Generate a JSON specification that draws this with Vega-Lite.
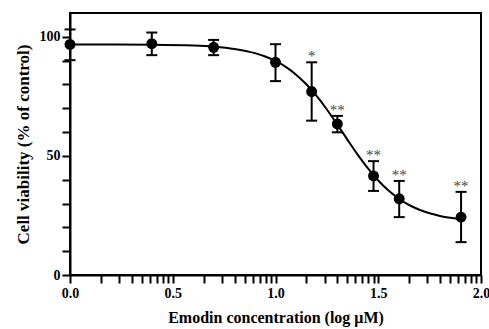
{
  "$schema": "https://vega.github.io/schema/vega-lite/v6.json",
  "width": 411,
  "height": 262,
  "autosize": {"type": "none"},
  "padding": {"left": 70, "top": 13, "right": 8, "bottom": 54},
  "background": "white",
  "view": {"stroke": "black", "strokeWidth": 2},
  "config": {
    "font": "Liberation Serif",
    "axis": {
      "domainColor": "black", "domainWidth": 2, "tickColor": "black", "tickWidth": 2,
      "labelFont": "Liberation Serif", "labelFontWeight": "bold", "labelFontSize": 14, "labelColor": "black",
      "titleFont": "Liberation Serif", "titleFontWeight": "bold", "titleFontSize": 16, "titleColor": "black",
      "grid": false, "labelOverlap": false, "labelBound": false, "labelFlush": false
    }
  },
  "datasets": {
    "points": [
      {"logc": 0.0, "viability": 96.8, "lo": 90.2, "hi": 103.1},
      {"logc": 0.398, "viability": 97.1, "lo": 92.3, "hi": 101.8},
      {"logc": 0.699, "viability": 95.6, "lo": 92.3, "hi": 98.7},
      {"logc": 1.0, "viability": 89.3, "lo": 81.4, "hi": 96.9},
      {"logc": 1.176, "viability": 77.0, "lo": 64.8, "hi": 89.3},
      {"logc": 1.301, "viability": 63.4, "lo": 59.9, "hi": 66.8},
      {"logc": 1.477, "viability": 41.6, "lo": 35.3, "hi": 47.8},
      {"logc": 1.602, "viability": 32.0, "lo": 24.3, "hi": 39.5},
      {"logc": 1.903, "viability": 24.3, "lo": 13.8, "hi": 34.9}
    ],
    "curve": [
      {"logc": 0.0, "fit": 96.8},
      {"logc": 0.2, "fit": 96.77},
      {"logc": 0.4, "fit": 96.68},
      {"logc": 0.6, "fit": 96.32},
      {"logc": 0.7, "fit": 95.85},
      {"logc": 0.8, "fit": 94.93},
      {"logc": 0.9, "fit": 93.15},
      {"logc": 0.95, "fit": 91.75},
      {"logc": 1.0, "fit": 89.87},
      {"logc": 1.05, "fit": 87.35},
      {"logc": 1.1, "fit": 84.12},
      {"logc": 1.15, "fit": 80.07},
      {"logc": 1.2, "fit": 75.16},
      {"logc": 1.25, "fit": 69.49},
      {"logc": 1.3, "fit": 63.26},
      {"logc": 1.35, "fit": 56.82},
      {"logc": 1.4, "fit": 50.53},
      {"logc": 1.45, "fit": 44.73},
      {"logc": 1.5, "fit": 39.66},
      {"logc": 1.55, "fit": 35.43},
      {"logc": 1.6, "fit": 32.03},
      {"logc": 1.65, "fit": 29.39},
      {"logc": 1.7, "fit": 27.39},
      {"logc": 1.75, "fit": 25.9},
      {"logc": 1.8, "fit": 24.8},
      {"logc": 1.85, "fit": 24.01},
      {"logc": 1.91, "fit": 23.34}
    ],
    "stars": [
      {"logc": 1.176, "pos": 92.0, "label": "*"},
      {"logc": 1.301, "pos": 69.4, "label": "**"},
      {"logc": 1.477, "pos": 50.2, "label": "**"},
      {"logc": 1.602, "pos": 42.1, "label": "**"},
      {"logc": 1.903, "pos": 37.2, "label": "**"}
    ]
  },
  "encoding": {
    "x": {
      "type": "quantitative",
      "scale": {"domain": [0, 2], "nice": false, "zero": false},
      "title": "Emodin concentration (log μM)",
      "axis": {
        "values": [0, 0.1505, 0.2386, 0.301, 0.3495, 0.3891, 0.4226, 0.4515, 0.4771, 0.5, 0.6505, 0.7386, 0.801, 0.8495, 0.8891, 0.9226, 0.9515, 0.9771, 1, 1.1505, 1.2386, 1.301, 1.3495, 1.3891, 1.4226, 1.4515, 1.4771, 1.5, 1.6505, 1.7386, 1.801, 1.8495, 1.8891, 1.9226, 1.9515, 1.9771, 2],
        "labelExpr": "abs(datum.value*2 - round(datum.value*2)) < 0.001 ? format(datum.value, '.1f') : ''",
        "tickSize": 8,
        "encode": {"ticks": {"update": {"y2": {"signal": "abs(datum.value*2 - round(datum.value*2)) < 0.001 ? 8 : 5"}}}},
        "labelPadding": 3,
        "titlePadding": 9
      }
    },
    "y": {
      "type": "quantitative",
      "scale": {"domain": [0, 110], "nice": false},
      "title": "Cell viability (% of control)",
      "axis": {
        "values": [0, 10, 20, 30, 40, 50, 60, 70, 80, 90, 100],
        "labelExpr": "datum.value == 0 || datum.value == 50 || datum.value == 100 ? datum.label : ''",
        "tickSize": 8,
        "labelPadding": 2,
        "titlePadding": 7,
        "titleFontSize": 17
      }
    }
  },
  "layer": [
    {
      "data": {"name": "curve"},
      "mark": {"type": "line", "color": "black", "strokeWidth": 2, "interpolate": "monotone"},
      "encoding": {
        "x": {"field": "logc"},
        "y": {"field": "fit"}
      }
    },
    {
      "data": {"name": "points"},
      "mark": {"type": "rule", "color": "black", "strokeWidth": 2},
      "encoding": {
        "x": {"field": "logc"},
        "y": {"field": "lo"},
        "y2": {"field": "hi"}
      }
    },
    {
      "data": {"name": "points"},
      "mark": {"type": "tick", "orient": "horizontal", "color": "black", "size": 11, "thickness": 2, "opacity": 1},
      "encoding": {
        "x": {"field": "logc"},
        "y": {"field": "lo"}
      }
    },
    {
      "data": {"name": "points"},
      "mark": {"type": "tick", "orient": "horizontal", "color": "black", "size": 11, "thickness": 2, "opacity": 1},
      "encoding": {
        "x": {"field": "logc"},
        "y": {"field": "hi"}
      }
    },
    {
      "data": {"name": "points"},
      "mark": {"type": "point", "shape": "circle", "filled": true, "color": "black", "size": 120, "opacity": 1},
      "encoding": {
        "x": {"field": "logc"},
        "y": {"field": "viability"}
      }
    },
    {
      "data": {"name": "stars"},
      "mark": {"type": "text", "font": "Liberation Serif", "fontSize": 15, "color": "#444444", "baseline": "middle", "align": "center"},
      "encoding": {
        "x": {"field": "logc"},
        "y": {"field": "pos"},
        "text": {"field": "label"}
      }
    }
  ]
}
